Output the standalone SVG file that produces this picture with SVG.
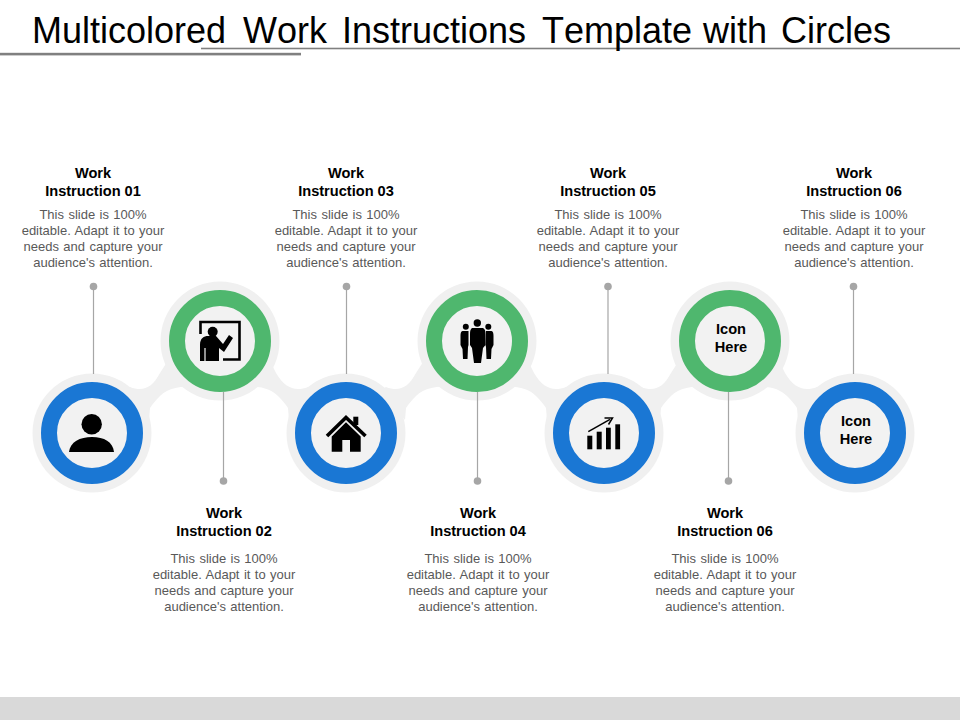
<svg xmlns="http://www.w3.org/2000/svg" width="960" height="720" viewBox="0 0 960 720">
<style>
text{font-family:"Liberation Sans",Arial,sans-serif;text-anchor:middle}
.t{font-size:36px;fill:#000;text-anchor:start;font-kerning:none}
.h{font-size:14.6px;font-weight:700;fill:#000}
.b{font-size:13px;fill:#595959;word-spacing:.8px}
.halo{fill:#f0f0f0}
.blue{fill:#f2f2f2;stroke:#1a77d4;stroke-width:16}
.green{fill:#f2f2f2;stroke:#4fb76e;stroke-width:16}
.ln{stroke:#a6a6a6;stroke-width:1.2;fill:none}
.dot{fill:#a6a6a6}
.i{fill:#000}
</style>
<defs>
<path id="linkL" d="M33 -43L38 -46C51 -41 60 -45 68 -60L86 -88L108 -47C88 -47 76 -45 68 -37C63 -32 60 -28 58 -25L57 -13Z"/>
<path id="linkR" d="M-33 -43L-38 -46C-51 -41 -61 -45 -70 -60L-84 -88L-106 -47C-86 -47 -76 -45 -68 -37C-63 -32 -60 -28 -58 -25L-57 -13Z"/>
</defs>
<g id="header">
<rect x="201" y="47.7" width="759" height="1.6" fill="#808080"/>
<rect x="0" y="52.8" width="301" height="2.6" fill="#808080"/>
<text class="t" x="32" y="43">Multicolored</text>
<text class="t" x="243" y="43">Work</text>
<text class="t" x="342" y="43">Instructions</text>
<text class="t" x="542" y="43">Template</text>
<text class="t" x="703" y="43">with</text>
<text class="t" x="781" y="43">Circles</text>
</g>
<g id="footer"><rect x="0" y="697" width="960" height="23" fill="#d9d9d9"/></g>
<g id="bands" class="halo">
<use href="#linkL" transform="translate(92 433)"/>
<use href="#linkR" transform="translate(346 433)"/>
<use href="#linkL" transform="translate(348 433)"/>
<use href="#linkR" transform="translate(604 433)"/>
<use href="#linkL" transform="translate(603 433)"/>
<use href="#linkR" transform="translate(855 433)"/>
</g>
<g id="node1">
<circle class="halo" cx="92" cy="433" r="59.500"/><circle class="blue" cx="92" cy="433" r="43"/>
<circle class="i" cx="91.700" cy="424.300" r="10.200"/><path class="i" d="M69 452C70 442 80 437 92 437C104 437 113 442 114 452Z"/>
<text class="h" x="93" y="178">Work</text><text class="h" x="93" y="196">Instruction 01</text>
<text class="b" x="93" y="219">This slide is 100%</text><text class="b" x="93" y="235">editable. Adapt it to your</text><text class="b" x="93" y="251">needs and capture your</text><text class="b" x="93" y="267">audience's attention.</text>
</g>
<g id="node2">
<circle class="halo" cx="220" cy="341" r="59.500"/><circle class="green" cx="220" cy="341" r="43"/>
<path d="M200.500 334V322H239.500V359.500H223" fill="none" stroke="#000" stroke-width="2.600"/>
<circle class="i" cx="212.700" cy="331.700" r="5"/>
<path class="i" d="M200 361V345C200 338 204 336 208 336H216L223 344L229 335L233 338L224 352L219 348V361Z"/>
<path d="M205 348V361" stroke="#f2f2f2" stroke-width="1.200"/>
<text class="h" x="224" y="518">Work</text><text class="h" x="224" y="536">Instruction 02</text>
<text class="b" x="224" y="563">This slide is 100%</text><text class="b" x="224" y="579">editable. Adapt it to your</text><text class="b" x="224" y="595">needs and capture your</text><text class="b" x="224" y="611">audience's attention.</text>
</g>
<g id="node3">
<circle class="halo" cx="346" cy="433" r="59.500"/><circle class="blue" cx="346" cy="433" r="43"/>
<path class="i" d="M353.300 416.700H358.300V425H353.300Z"/>
<path d="M327 436L346 417.500L365.500 436" fill="none" stroke="#000" stroke-width="3.600"/>
<path class="i" fill-rule="evenodd" d="M346 422.300L360.700 436.500V451.700H331.700V436.500ZM342.300 440V451.700H350V440Z"/>
<text class="h" x="346" y="178">Work</text><text class="h" x="346" y="196">Instruction 03</text>
<text class="b" x="346" y="219">This slide is 100%</text><text class="b" x="346" y="235">editable. Adapt it to your</text><text class="b" x="346" y="251">needs and capture your</text><text class="b" x="346" y="267">audience's attention.</text>
</g>
<g id="node4">
<circle class="halo" cx="477" cy="341" r="59.500"/><circle class="green" cx="477" cy="341" r="43"/>
<circle class="i" cx="477.300" cy="323" r="3.700"/>
<path class="i" d="M472 328H483C485 329 485.500 331 485.500 334V345L483 348L481 363H474L472 348L470 345V334C470 331 470.500 329 472 328Z"/>
<circle class="i" cx="465.800" cy="326.800" r="3"/>
<path class="i" d="M462.500 331H468.500V345L468 347L467.500 359H463L462.500 349L460.500 345V336C460.500 333 461 331.500 462.500 331Z"/>
<circle class="i" cx="488.300" cy="326.800" r="3"/>
<path class="i" d="M486 331H491.500C493 331.500 493.500 333 493.500 336V345L491.500 349L491 359H486.500L486 347L485.500 345Z"/>
<text class="h" x="478" y="518">Work</text><text class="h" x="478" y="536">Instruction 04</text>
<text class="b" x="478" y="563">This slide is 100%</text><text class="b" x="478" y="579">editable. Adapt it to your</text><text class="b" x="478" y="595">needs and capture your</text><text class="b" x="478" y="611">audience's attention.</text>
</g>
<g id="node5">
<circle class="halo" cx="604" cy="433" r="59.500"/><circle class="blue" cx="604" cy="433" r="43"/>
<rect class="i" x="587.300" y="435.700" width="5" height="13.600"/>
<rect class="i" x="596.700" y="431.700" width="5" height="17.600"/>
<rect class="i" x="606" y="427.700" width="4.800" height="21.600"/>
<rect class="i" x="615.300" y="424.300" width="4.800" height="25"/>
<path d="M588.300 431.700L610 419.300" fill="none" stroke="#000" stroke-width="1.500"/>
<path d="M604.500 418H612.500L608.500 424.500" fill="none" stroke="#000" stroke-width="1.500"/>
<text class="h" x="608" y="178">Work</text><text class="h" x="608" y="196">Instruction 05</text>
<text class="b" x="608" y="219">This slide is 100%</text><text class="b" x="608" y="235">editable. Adapt it to your</text><text class="b" x="608" y="251">needs and capture your</text><text class="b" x="608" y="267">audience's attention.</text>
</g>
<g id="node6">
<circle class="halo" cx="730" cy="341" r="59.500"/><circle class="green" cx="730" cy="341" r="43"/>
<text class="h" x="731" y="334">Icon</text><text class="h" x="731" y="352">Here</text>
<text class="h" x="725" y="518">Work</text><text class="h" x="725" y="536">Instruction 06</text>
<text class="b" x="725" y="563">This slide is 100%</text><text class="b" x="725" y="579">editable. Adapt it to your</text><text class="b" x="725" y="595">needs and capture your</text><text class="b" x="725" y="611">audience's attention.</text>
</g>
<g id="node7">
<circle class="halo" cx="855" cy="433" r="59.500"/><circle class="blue" cx="855" cy="433" r="43"/>
<text class="h" x="856" y="426">Icon</text><text class="h" x="856" y="444">Here</text>
<text class="h" x="854" y="178">Work</text><text class="h" x="854" y="196">Instruction 06</text>
<text class="b" x="854" y="219">This slide is 100%</text><text class="b" x="854" y="235">editable. Adapt it to your</text><text class="b" x="854" y="251">needs and capture your</text><text class="b" x="854" y="267">audience's attention.</text>
</g>
<g id="connectors">
<g class="ln">
<path d="M93.500 286V374"/><path d="M346.500 286V374"/><path d="M608 286V374"/><path d="M853.500 286V374"/>
<path d="M223.500 392V481"/><path d="M477.500 392V481"/><path d="M728.500 392V481"/>
</g>
<g class="dot">
<circle cx="93.500" cy="286.500" r="3.800"/><circle cx="346.500" cy="286.500" r="3.800"/><circle cx="608" cy="286.500" r="3.800"/><circle cx="853.500" cy="286.500" r="3.800"/>
<circle cx="223.500" cy="481" r="3.800"/><circle cx="477.500" cy="481" r="3.800"/><circle cx="728.500" cy="481" r="3.800"/>
</g>
</g>
</svg>
